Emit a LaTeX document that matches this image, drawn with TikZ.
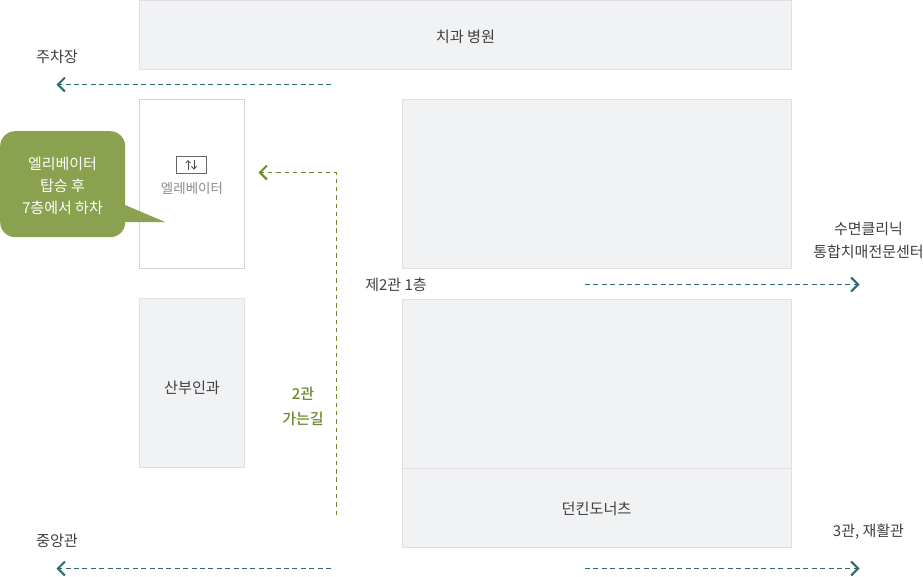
\documentclass[tikz,border=0pt]{standalone}
\usepackage{fontspec}
\setmainfont{Noto Sans CJK KR}
\newfontfamily\medfont{Noto Sans CJK KR Medium}
\usetikzlibrary{arrows.meta}
\definecolor{boxfill}{HTML}{F1F2F4}
\definecolor{boxline}{HTML}{E0E0E2}
\definecolor{teal1}{HTML}{2C6B70}
\definecolor{green1}{HTML}{6B8A2E}
\definecolor{callout}{HTML}{8AA24F}
\definecolor{txt}{HTML}{404040}
\tikzset{
 room/.style={draw=boxline,fill=boxfill,line width=1pt,inner sep=0pt},
 label/.style={text=txt,font=\fontsize{15.2}{23}\selectfont,align=center,inner sep=0pt},
 path1/.style={draw=teal1,line width=1.2pt,dash pattern=on 5pt off 3.4pt,-{Straight Barb[length=7pt,width=14pt,line width=2pt]}},
 path2/.style={draw=green1,line width=1.2pt,dash pattern=on 4.4pt off 3.9pt,-{Straight Barb[length=7pt,width=14pt,line width=2pt]}},
}
\begin{document}
\begin{tikzpicture}[x=1pt,y=-1pt]
\useasboundingbox (0,0) rectangle (923,576);
\fill[white] (0,0) rectangle (923,576);
% rooms
\node[room,anchor=north west,minimum width=652pt,minimum height=69.5pt] (dental) at (139,-0.5) {};
\node[label] (dentallabel) at (465.5,37) {치과 병원};
\node[room,fill=white,draw=black!17,anchor=north west,minimum width=105pt,minimum height=169pt] (elev) at (139,99) {};
\node[room,anchor=north west,minimum width=105pt,minimum height=169pt] (obgyn) at (139,298) {};
\node[label] (obgynlabel) at (192,388) {산부인과};
\node[room,anchor=north west,minimum width=389pt,minimum height=169pt] (blank) at (402,99) {};
\node[room,anchor=north west,minimum width=389pt,minimum height=169pt] (blankb) at (402,299) {};
\node[room,anchor=north west,minimum width=389pt,minimum height=79pt] (dunkin) at (402,468) {};
\node[label] (dunkinlabel) at (596.5,509) {던킨도너츠};
% elevator icon
\node[draw=black!60,line width=1pt,fill=white,minimum width=30pt,minimum height=17pt,inner sep=0pt,anchor=north west] (icon) at (176,156) {};
\coordinate (upb) at (188,169.5); \coordinate (upt) at (188,160);
\coordinate (dnt) at (194,160); \coordinate (dnb) at (194,169.5);
\draw[black!70,line width=.8pt,-{Straight Barb[length=2.5pt,width=5pt,line width=.8pt]}] (upb) -- (upt);
\draw[black!70,line width=.8pt,-{Straight Barb[length=2.5pt,width=5pt,line width=.8pt]}] (dnt) -- (dnb);
\node[label,text=black!45,font=\fontsize{13.5}{18}\selectfont] (elevlabel) at (192,188) {엘레베이터};
% callout
\fill[callout] (125,205) -- (165,222) -- (125,222) -- cycle;
\node[fill=callout,rounded corners=15pt,minimum width=125pt,minimum height=106pt,inner sep=0pt,anchor=north west] (note) at (0,131) {};
\node[text=white,align=center,inner sep=0pt,font=\fontsize{15}{22}\selectfont] (notelabel) at (62.5,186) {엘리베이터\\탑승 후\\7층에서 하차};
% labels
\node[label] (parking) at (57,57) {주차장};
\node[label] (central) at (57,541) {중앙관};
\node[label,font=\fontsize{15}{23}\selectfont] (floor) at (396,284.5) {제2관 1층};
\node[label,font=\fontsize{15}{23}\selectfont] (sleep) at (868.5,240) {수면클리닉\\통합치매전문센터};
\node[label,font=\fontsize{15}{23}\selectfont] (rehab) at (868.5,531.5) {3관, 재활관};
\node[label,text=green1,font=\medfont\fontsize{15}{25}\selectfont] (way) at (303,406.5) {2관\\가는길};
% connectors
\coordinate (a1) at (331,84.5); \coordinate (a2) at (56.5,84.5);
\coordinate (b1) at (331,568.5); \coordinate (b2) at (56.5,568.5);
\coordinate (c1) at (585,284.5); \coordinate (c2) at (859.5,284.5);
\coordinate (d1) at (585,568.5); \coordinate (d2) at (859.5,568.5);
\coordinate (e1) at (336.5,515); \coordinate (e2) at (336.5,172.5); \coordinate (e3) at (258.5,172.5);
\draw[path1] (a1) -- (a2);
\draw[path1] (b1) -- (b2);
\draw[path1] (c1) -- (c2);
\draw[path1] (d1) -- (d2);
\draw[path2] (e1) -- (e2) -- (e3);
\end{tikzpicture}
\end{document}
